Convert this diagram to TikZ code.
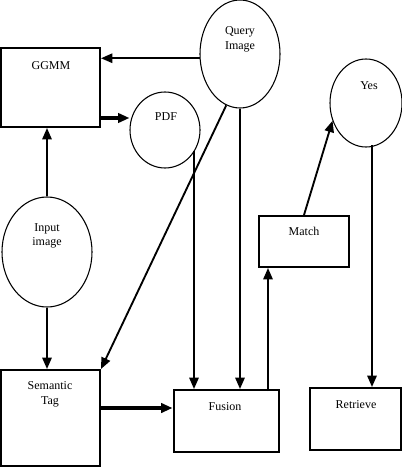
\documentclass[tikz,border=0pt]{standalone}
\usepackage{fontspec}
\setmainfont{Liberation Serif}
\usetikzlibrary{arrows.meta,shapes.geometric}
\begin{document}
\begin{tikzpicture}[x=0.75pt,y=-0.75pt,
  box/.style={draw,line width=1.5pt,rectangle,inner sep=0pt},
  oval/.style={draw,line width=0.8pt,ellipse,inner sep=0pt},
  txt/.style={font=\fontsize{9}{11}\selectfont,align=center,inner sep=0pt},
  conn/.style={line width=1.4pt,-{Triangle[length=8.5pt,width=7pt]}},
  thickconn/.style={line width=2.4pt,-{Triangle[length=8.5pt,width=7pt]}}]
\useasboundingbox (0,0) rectangle (402,467);
% boxes
\node[box,minimum width=74.25pt,minimum height=59.25pt] (gg) at (50.5,87.5) {};
\node[box,minimum width=74.25pt,minimum height=72pt] (st) at (50.5,418) {};
\node[box,minimum width=78.75pt,minimum height=46.5pt] (fu) at (226,421) {};
\node[box,minimum width=67.5pt,minimum height=38.25pt] (ma) at (304,241.5) {};
\node[box,minimum width=68.25pt,minimum height=46.5pt] (re) at (355.5,419) {};
% ovals
\node[oval,minimum width=60pt,minimum height=81pt] (qi) at (240,54) {};
\node[oval,minimum width=52.5pt,minimum height=57pt] (pdf) at (165,130) {};
\node[oval,minimum width=54pt,minimum height=66pt] (yes) at (366,103) {};
\node[oval,minimum width=67.5pt,minimum height=82.5pt] (in) at (47,252) {};
% texts
\node[txt] (ggt) at (51,66) {GGMM};
\node[txt] (qit) at (240,39) {Query\\Image};
\node[txt] (pdft) at (166,117) {PDF};
\node[txt] (yest) at (369,86) {Yes};
\node[txt] (int) at (47,236) {Input\\image};
\node[txt] (mat) at (304,231) {Match};
\node[txt] (stt) at (50,394) {Semantic\\Tag};
\node[txt] (fut) at (225,407) {Fusion};
\node[txt] (ret) at (356,405) {Retrieve};
% helper coordinates
\coordinate (gp) at (100,118);
\coordinate (sf) at (100,408);
\coordinate (fm) at (268,391);
\coordinate (yr) at (372,145);
\coordinate (pf) at (194,151);
% connectors
\draw[conn] (qi.186) -- (qi.186 -| gg.east);
\draw[thickconn] (gp) -- (gp -| pdf.west);
\draw[conn] (in.north) -- (in.north |- gg.south);
\draw[conn] (in.south) -- (in.south |- st.north);
\draw[conn] (qi.255) -- (st.north east);
\draw[conn] (qi.south) -- (qi.south |- fu.north);
\draw[conn] (pf) -- (pf |- fu.north);
\draw[thickconn] (sf) -- (sf -| fu.west);
\draw[conn] (fm) -- (fm |- ma.south);
\draw[conn] (ma.north) -- (yes.208);
\draw[conn] (yr) -- (yr |- re.north);
\end{tikzpicture}
\end{document}
